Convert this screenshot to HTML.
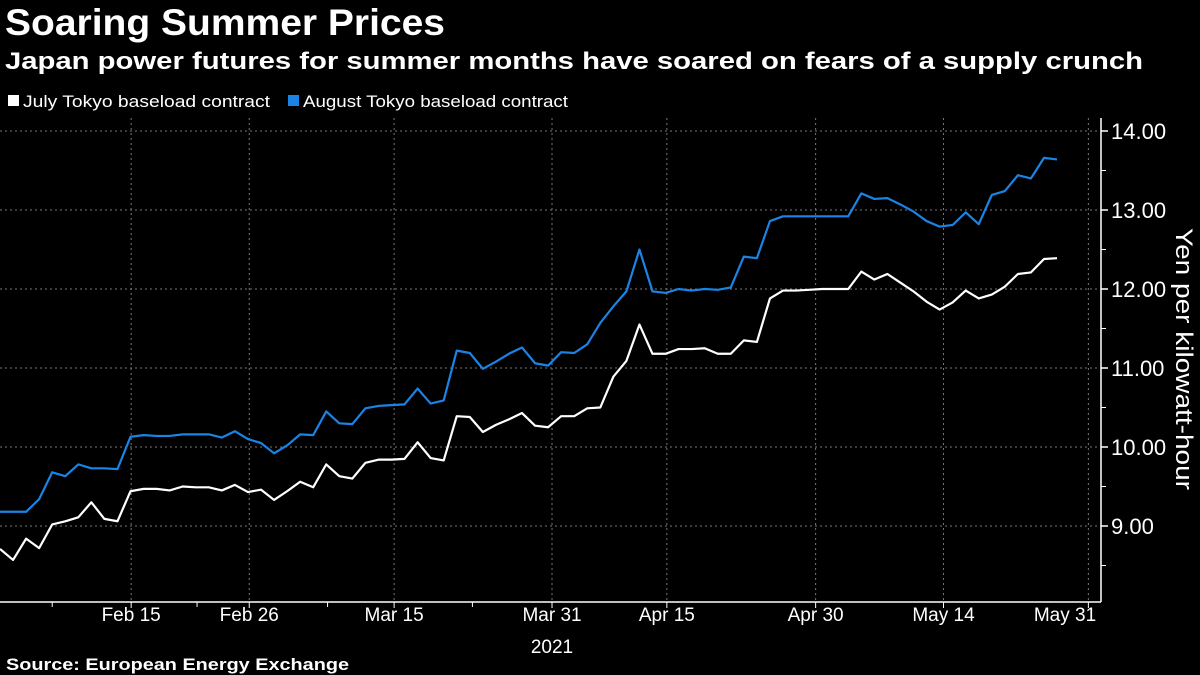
<!DOCTYPE html>
<html><head><meta charset="utf-8"><style>
body{margin:0;background:#000;width:1200px;height:675px;overflow:hidden;font-family:"Liberation Sans",sans-serif;color:#fff}
svg{position:absolute;left:0;top:0}
</style></head><body>
<svg width="1200" height="675">
<text x="5" y="35" font-size="37" font-weight="bold" fill="#fff" textLength="440" lengthAdjust="spacingAndGlyphs">Soaring Summer Prices</text>
<text x="5" y="69" font-size="24" font-weight="bold" fill="#fff" textLength="1138" lengthAdjust="spacingAndGlyphs">Japan power futures for summer months have soared on fears of a supply crunch</text>
<g>
<rect x="8" y="95" width="11" height="11" fill="#fff"/>
<text x="23" y="107" font-size="17" fill="#fff" textLength="247" lengthAdjust="spacingAndGlyphs">July Tokyo baseload contract</text>
<rect x="288" y="95" width="11" height="11" fill="#1a84e6"/>
<text x="303" y="107" font-size="17" fill="#fff" textLength="265" lengthAdjust="spacingAndGlyphs">August Tokyo baseload contract</text>
</g>
<g id="grid"></g>
<g id="axes"></g>
<g id="series"></g>
<text transform="translate(1176,359) rotate(90)" text-anchor="middle" font-size="24" fill="#fff" textLength="262" lengthAdjust="spacingAndGlyphs">Yen per kilowatt-hour</text>
<text x="6" y="670" font-size="17" font-weight="bold" fill="#fff" textLength="343" lengthAdjust="spacingAndGlyphs">Source: European Energy Exchange</text>
</svg>
<script>
const julyValues=[8.71,8.57,8.84,8.72,9.02,9.06,9.11,9.30,9.09,9.06,9.44,9.47,9.47,9.45,9.50,9.49,9.49,9.45,9.52,9.43,9.46,9.33,9.44,9.56,9.49,9.78,9.63,9.60,9.80,9.84,9.84,9.85,10.06,9.86,9.83,10.39,10.38,10.19,10.28,10.35,10.43,10.27,10.25,10.39,10.39,10.49,10.50,10.89,11.09,11.55,11.18,11.18,11.24,11.24,11.25,11.18,11.18,11.35,11.33,11.88,11.98,11.98,11.99,12.00,12.00,12.00,12.22,12.12,12.19,12.08,11.97,11.84,11.74,11.83,11.98,11.88,11.93,12.03,12.19,12.21,12.38,12.39];
const augustValues=[9.18,9.18,9.18,9.34,9.68,9.63,9.78,9.73,9.73,9.72,10.13,10.15,10.14,10.14,10.16,10.16,10.16,10.12,10.20,10.10,10.05,9.92,10.02,10.16,10.15,10.45,10.30,10.29,10.49,10.52,10.53,10.54,10.74,10.55,10.59,11.22,11.19,10.99,11.08,11.18,11.26,11.06,11.03,11.20,11.19,11.30,11.57,11.78,11.97,12.50,11.97,11.95,12.00,11.98,12.00,11.99,12.02,12.41,12.39,12.86,12.92,12.92,12.92,12.92,12.92,12.92,13.21,13.14,13.15,13.07,12.98,12.86,12.79,12.81,12.97,12.82,13.19,13.24,13.44,13.40,13.66,13.64];
const yTicks=[9,10,11,12,13,14];
const yTickLabels=["9.00","10.00","11.00","12.00","13.00","14.00"];
const xTickIndex=[10.05,19.1,30.2,42.3,51.1,62.5,72.3,83.4];
const xTickLabels=["Feb 15","Feb 26","Mar 15","Mar 31","Apr 15","Apr 30","May 14","May 31"];
const minorTickIndex=[4,15.1,25.1,36.2];

const NS="http://www.w3.org/2000/svg";
const X0=0,DX=13.05,AXX=1101,BOT=602;
const xs=i=>X0+i*DX;
const ys=v=>131+(14-v)*79;
function mk(tag,attrs,parent){const e=document.createElementNS(NS,tag);for(const k in attrs)e.setAttribute(k,attrs[k]);parent.appendChild(e);return e;}
const grid=document.getElementById('grid'),axes=document.getElementById('axes'),ser=document.getElementById('series');
yTicks.forEach((v,k)=>{
 const l=mk('line',{x1:0,x2:AXX,y1:ys(v),y2:ys(v),stroke:'#777','stroke-dasharray':'2,3','stroke-width':1},grid);
 
 
 const t=mk('line',{x1:AXX,x2:AXX+7,y1:ys(v),y2:ys(v),stroke:'#fff','stroke-width':1.5},axes);
 
 
 const tx=mk('text',{x:AXX+10,y:ys(v)+8,'font-size':22,fill:'#fff'},axes);
 tx.textContent=yTickLabels[k];
 
 
 if(k<yTicks.length-1){
  const m=mk('line',{x1:AXX,x2:AXX+5,y1:ys(v+0.5),y2:ys(v+0.5),stroke:'#fff','stroke-width':1},axes);
  
  
 }
});
const m0=mk('line',{x1:AXX,x2:AXX+5,y1:ys(8.5),y2:ys(8.5),stroke:'#fff','stroke-width':1},axes);


xTickIndex.forEach((i,k)=>{
 const x=xs(i);
 const g=mk('line',{x1:x,x2:x,y1:118,y2:BOT,stroke:'#777','stroke-dasharray':'2,3','stroke-width':1},grid);
 
 
 const t=mk('line',{x1:x,x2:x,y1:BOT,y2:BOT+6,stroke:'#fff','stroke-width':1},axes);
 
 
 const lx=Math.min(x,1065);
 const tx=mk('text',{x:lx,y:BOT+19,'font-size':19,fill:'#fff','text-anchor':'middle'},axes);
 tx.textContent=xTickLabels[k];
 
 
});
minorTickIndex.forEach(i=>{
 const t=mk('line',{x1:xs(i),x2:xs(i),y1:BOT,y2:BOT+5,stroke:'#fff','stroke-width':1},axes);
 
 
});
const yr=mk('text',{x:xs(42.3),y:BOT+51,'font-size':19,fill:'#fff','text-anchor':'middle'},axes);
yr.textContent='2021';


const xa=mk('line',{x1:0,x2:AXX,y1:BOT,y2:BOT,stroke:'#fff','stroke-width':1.5},axes);


const ya=mk('line',{x1:AXX,x2:AXX,y1:118,y2:BOT,stroke:'#fff','stroke-width':1.5},axes);


function line(vals,color,name){
 const p=mk('polyline',{points:vals.map((v,i)=>xs(i)+','+ys(v)).join(' '),fill:'none',stroke:color,'stroke-width':2.2,'stroke-linejoin':'round'},ser);
 
 
}
line(augustValues,'#1a84e6','august-line');
line(julyValues,'#ffffff','july-line');
</script>
</body></html>
